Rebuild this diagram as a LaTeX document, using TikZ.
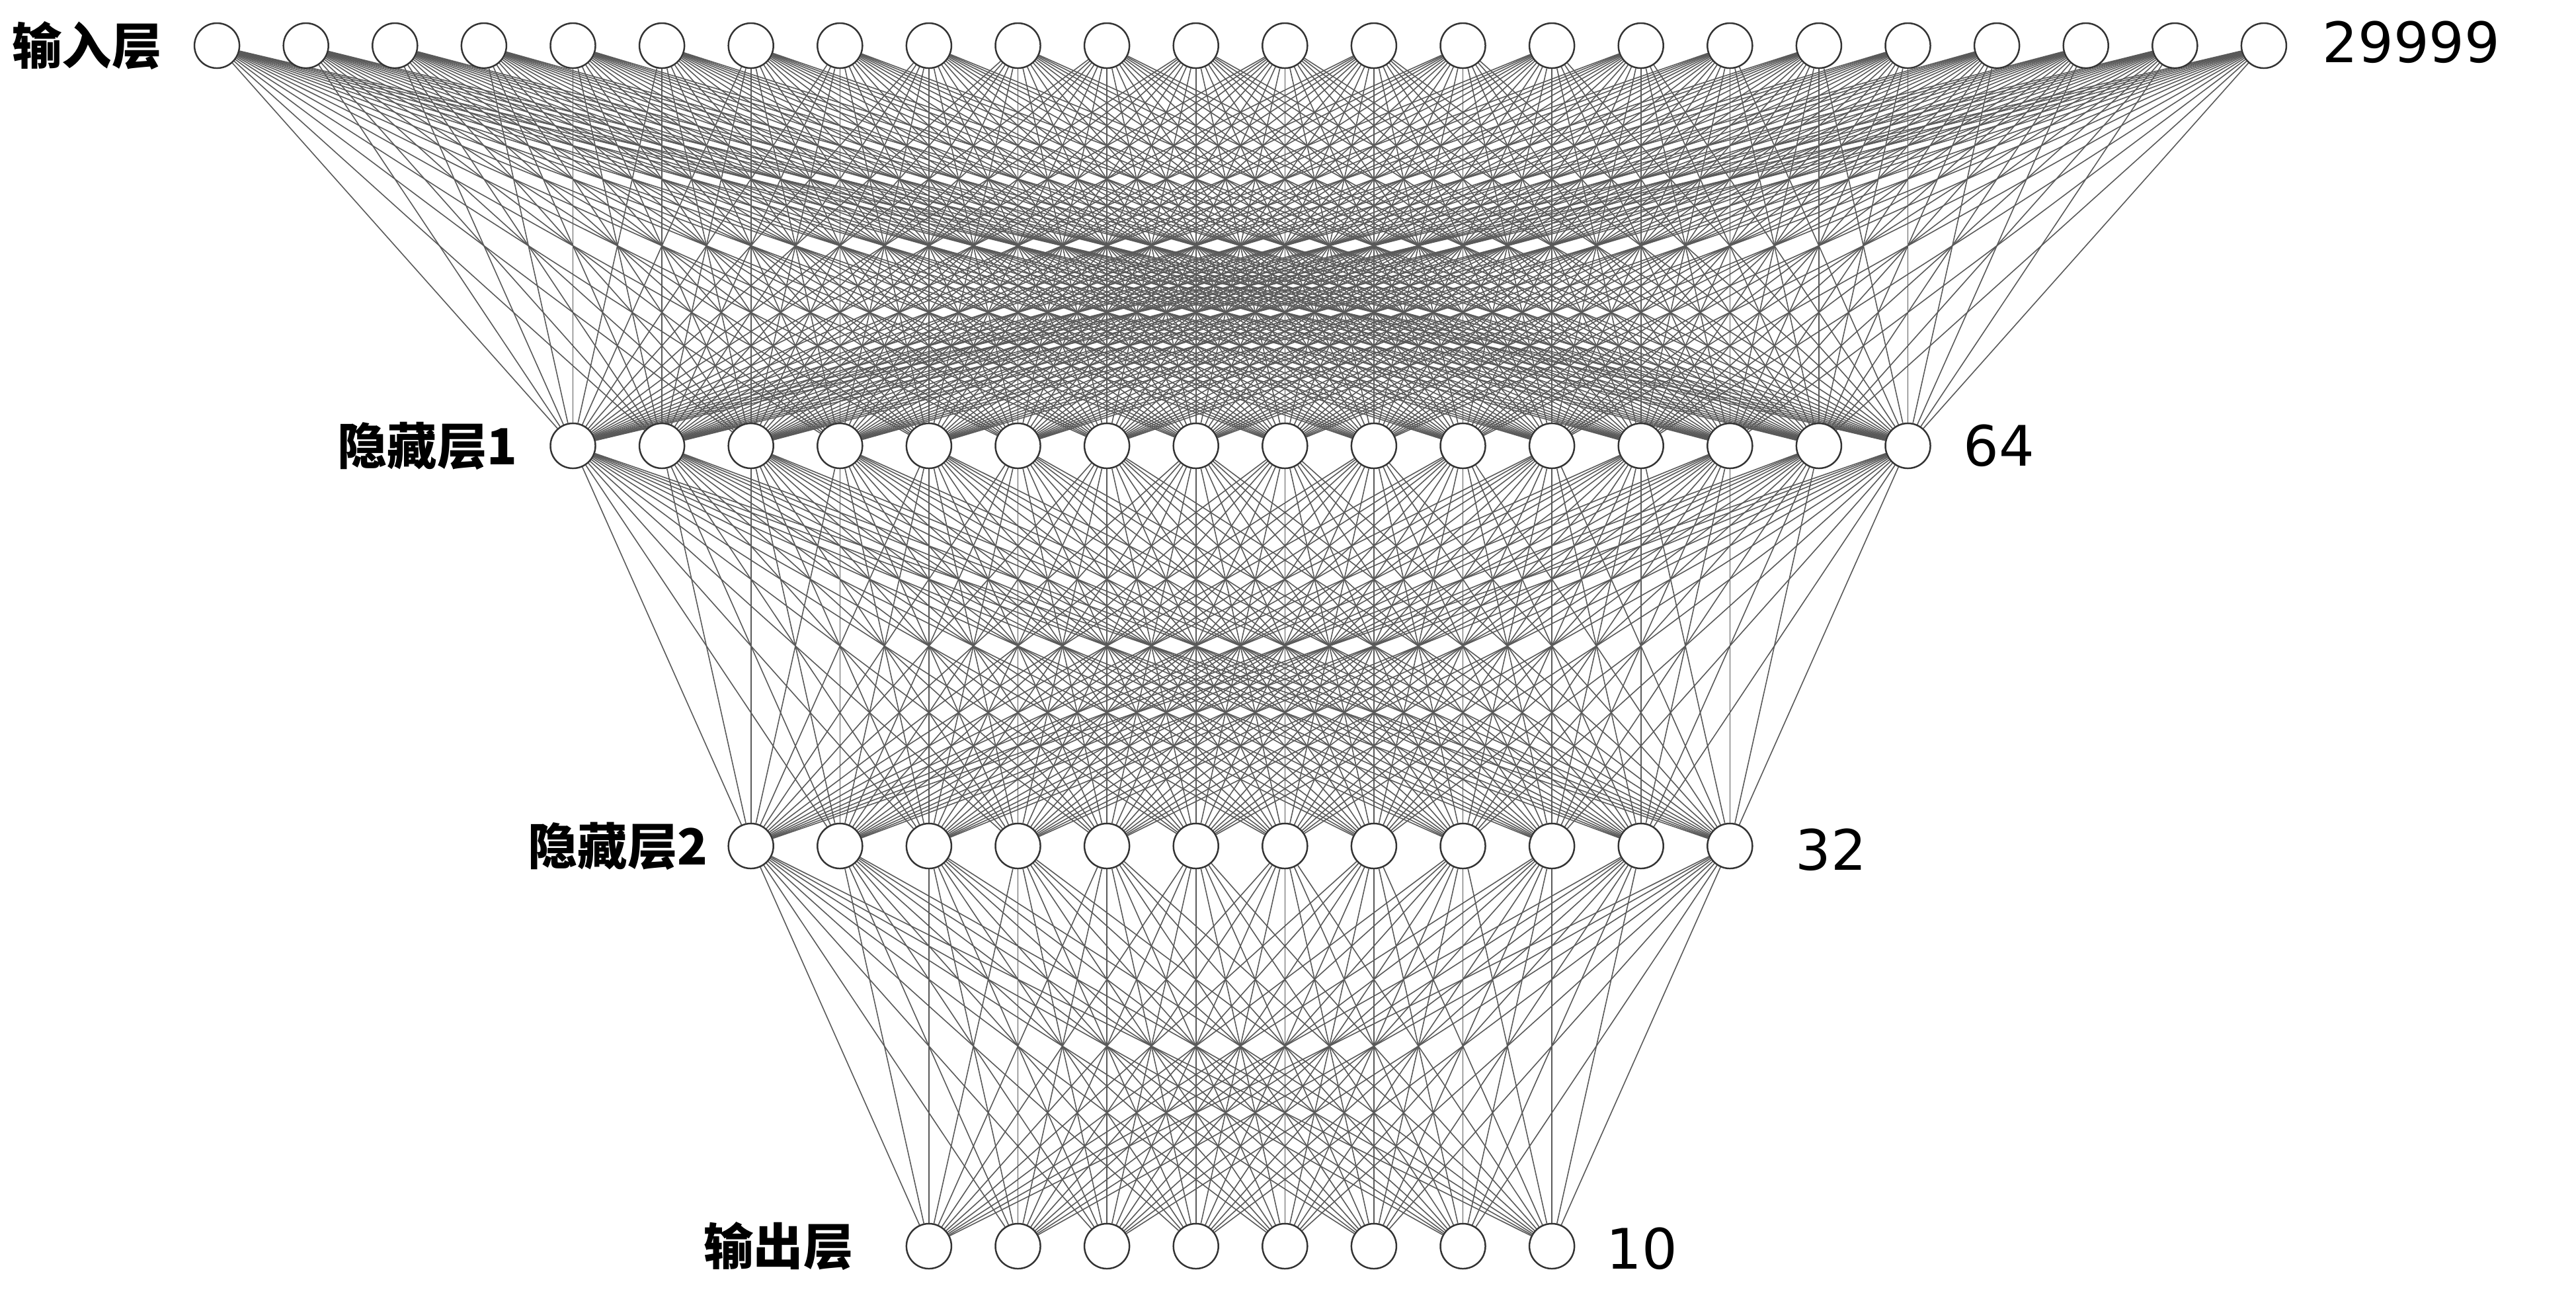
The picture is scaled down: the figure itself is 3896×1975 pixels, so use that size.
\documentclass[tikz,border=0pt]{standalone}
\usepackage{fontspec}
\newfontfamily\cjk{Noto Sans CJK SC}
\newfontfamily\numfont{DejaVu Sans}
\usetikzlibrary{backgrounds}

\begin{document}
\begin{tikzpicture}[
    x=0.01cm, y=-0.01cm,
    neuron/.style={circle, draw=black!80, line width=0.7pt, fill=white, minimum size=0.68cm, inner sep=0pt},
    link/.style={draw=black!65, line width=0.45pt},
    layername/.style={anchor=east, inner sep=0pt, font=\cjk\bfseries\fontsize{21.4}{21.4}\selectfont},
    layersize/.style={anchor=west, inner sep=0pt, font=\numfont\fontsize{24}{24}\selectfont}
]
\useasboundingbox (0,0) rectangle (3896,1975);

% neurons
\foreach \i in {1,...,24} \node[neuron] (in\i) at ({1876+(\i-12.5)*134.6},69) {};
\foreach \i in {1,...,16} \node[neuron] (ha\i) at ({1876+(\i-8.5)*134.6},674) {};
\foreach \i in {1,...,12} \node[neuron] (hb\i) at ({1876+(\i-6.5)*134.6},1279) {};
\foreach \i in {1,...,8} \node[neuron] (out\i) at ({1876+(\i-4.5)*134.6},1884) {};

% layer names
\node[layername] (nameIn) at (245,69) {输入层};
\node[layername] (nameHa) at (783,674) {隐藏层1};
\node[layername] (nameHb) at (1071,1279) {隐藏层2};
\node[layername] (nameOut) at (1291,1884) {输出层};

% layer sizes
\node[layersize] (sizeIn) at (3512,64) {29999};
\node[layersize] (sizeHa) at (2969,674) {64};
\node[layersize] (sizeHb) at (2715,1285) {32};
\node[layersize] (sizeOut) at (2429,1888) {10};

% connections
\begin{scope}[on background layer]
\foreach \a in {1,...,24} \foreach \b in {1,...,16} \draw[link] (in\a) -- (ha\b);
\foreach \a in {1,...,16} \foreach \b in {1,...,12} \draw[link] (ha\a) -- (hb\b);
\foreach \a in {1,...,12} \foreach \b in {1,...,8} \draw[link] (hb\a) -- (out\b);
\end{scope}
\end{tikzpicture}
\end{document}
